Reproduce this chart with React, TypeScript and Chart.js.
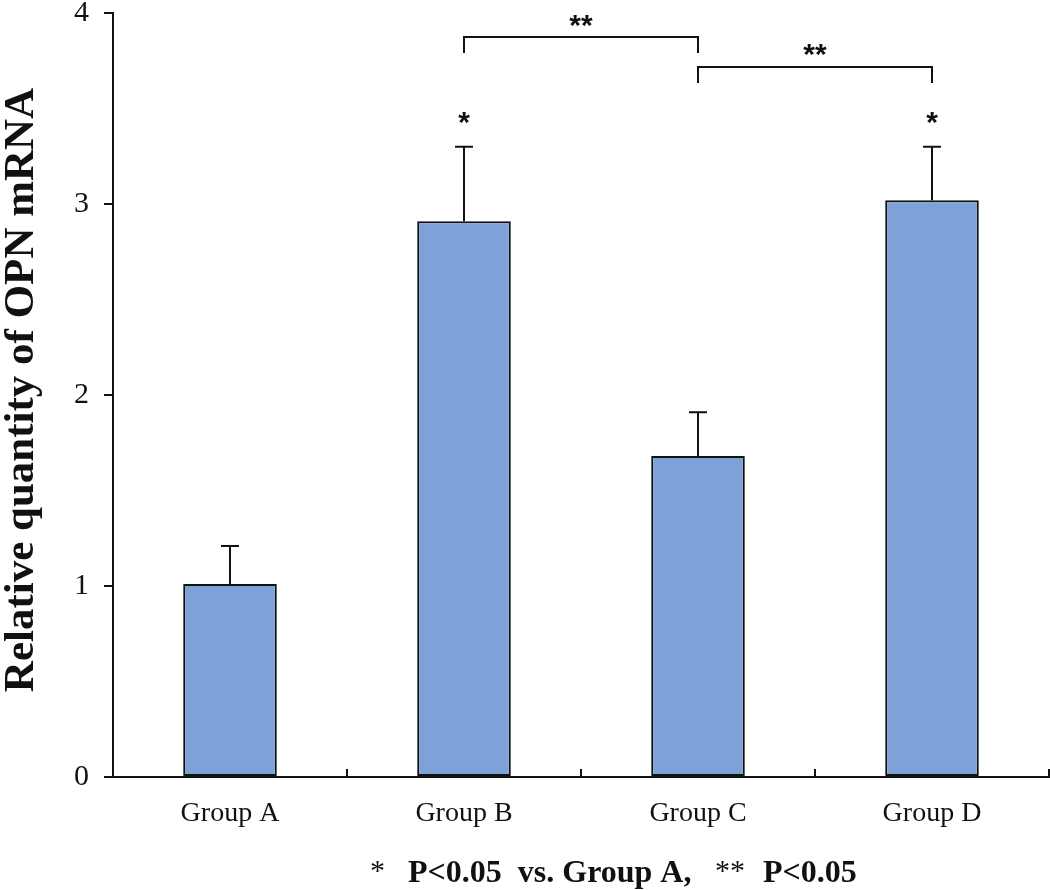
import React, { useEffect, useRef } from "react";
import { Chart, registerables } from "chart.js";

Chart.register(...registerables);

// ---- data ----
const categories = ["Group A", "Group B", "Group C", "Group D"];
const meanValues = [1.01, 2.91, 1.68, 3.02];
const errorTops = [1.21, 3.3, 1.91, 3.3];
const starLabels = ["", "*", "", "*"];
const starLevels = [0, 3.45, 0, 3.45];
const yTickValues = [0, 1, 2, 3, 4];
// brackets: [fromIndex, toIndex, topValue, legValue, labelValue]
const bracketFrom = [1, 2];
const bracketTo = [2, 3];
const bracketTop = [3.875, 3.717];
const bracketLeg = [3.79, 3.633];
const bracketLabelLevel = [3.96, 3.81];
const bracketLabels = ["**", "**"];
const yTitle = "Relative quantity of OPN mRNA";

const INK = "#111111";
const BAR_FILL = "rgb(126,161,216)";

const annotations = {
  id: "annotations",
  afterDatasetsDraw(chart: any) {
    const { ctx } = chart;
    const ys = chart.scales.y;
    const meta = chart.getDatasetMeta(0);
    ctx.save();
    ctx.strokeStyle = INK;
    ctx.fillStyle = INK;
    ctx.lineWidth = 2;
    // error bars
    meta.data.forEach((bar: any, i: number) => {
      const x = bar.x;
      const yTop = ys.getPixelForValue(errorTops[i]);
      ctx.beginPath();
      ctx.moveTo(x, bar.y);
      ctx.lineTo(x, yTop);
      ctx.moveTo(x - 9, yTop);
      ctx.lineTo(x + 9, yTop);
      ctx.stroke();
      if (starLabels[i]) {
        ctx.font = "bold 30px 'Liberation Sans'";
        ctx.textAlign = "center";
        ctx.textBaseline = "middle";
        ctx.fillText(starLabels[i], x, ys.getPixelForValue(starLevels[i]) + 6);
      }
    });
    // brackets
    bracketFrom.forEach((f, k) => {
      const x1 = meta.data[f].x;
      const x2 = meta.data[bracketTo[k]].x;
      const yt = ys.getPixelForValue(bracketTop[k]);
      const yl = ys.getPixelForValue(bracketLeg[k]);
      ctx.beginPath();
      ctx.moveTo(x1, yl);
      ctx.lineTo(x1, yt);
      ctx.lineTo(x2, yt);
      ctx.lineTo(x2, yl);
      ctx.stroke();
      ctx.font = "bold 30px 'Liberation Sans'";
      ctx.textAlign = "center";
      ctx.textBaseline = "middle";
      ctx.fillText(bracketLabels[k], (x1 + x2) / 2, ys.getPixelForValue(bracketLabelLevel[k]) + 6);
    });
    // inward tick marks on x axis at category boundaries
    const xs = chart.scales.x;
    const half = (xs.getPixelForValue(1) - xs.getPixelForValue(0)) / 2;
    const yb = chart.chartArea.bottom;
    for (let i = 1; i <= categories.length; i++) {
      const x = xs.getPixelForValue(i) - half;
      ctx.beginPath();
      ctx.moveTo(x, yb);
      ctx.lineTo(x, yb - 8);
      ctx.stroke();
    }
    // y title
    ctx.save();
    ctx.translate(33, 390);
    ctx.rotate(-Math.PI / 2);
    ctx.font = "bold 43px 'Liberation Serif'";
    ctx.textAlign = "center";
    ctx.textBaseline = "alphabetic";
    ctx.fillText(yTitle, 0, 0);
    ctx.restore();
    // footer
    ctx.textAlign = "left";
    ctx.textBaseline = "alphabetic";
    const base = 882;
    ctx.font = "30px 'Liberation Serif'";
    ctx.fillText("*", 370, base - 2);
    ctx.font = "bold 32px 'Liberation Serif'";
    ctx.fillText("P<0.05  vs. Group A,", 408, base);
    ctx.font = "30px 'Liberation Serif'";
    ctx.fillText("**", 715, base - 2);
    ctx.font = "bold 32px 'Liberation Serif'";
    ctx.fillText("P<0.05", 763, base);
    ctx.restore();
  },
};

export default function App() {
  const ref = useRef<HTMLCanvasElement>(null);
  useEffect(() => {
    if (!ref.current) return;
    const chart = new Chart(ref.current, {
      type: "bar",
      data: {
        labels: categories,
        datasets: [
          {
            data: meanValues,
            backgroundColor: BAR_FILL,
            borderColor: INK,
            borderWidth: 2,
            borderSkipped: false,
            barPercentage: 0.4,
            categoryPercentage: 1,
          },
        ],
      },
      options: {
        responsive: false,
        animation: false,
        layout: { padding: { top: 13, right: 1, left: 0, bottom: 0 } },
        plugins: { legend: { display: false }, tooltip: { enabled: false } },
        scales: {
          x: {
            grid: { display: false, drawTicks: false },
            border: { display: true, color: INK, width: 2 },
            ticks: {
              color: INK,
              font: { family: "'Liberation Serif'", size: 28 },
              padding: 20,
            },
            afterFit: (s: any) => {
              s.height = 113;
              s.paddingLeft = 0;
              s.paddingRight = 0;
            },
          },
          y: {
            min: 0,
            max: 4,
            afterBuildTicks: (s: any) => {
              s.ticks = yTickValues.map((v) => ({ value: v }));
            },
            ticks: {
              color: INK,
              font: { family: "'Liberation Serif'", size: 30 },
              padding: 15,
            },
            grid: { drawOnChartArea: false, drawTicks: true, tickLength: 9, color: INK, lineWidth: 2 },
            border: { display: true, color: INK, width: 2 },
            afterFit: (s: any) => {
              s.width = 113;
              s.paddingTop = 0;
              s.paddingBottom = 0;
            },
          },
        },
      },
      plugins: [annotations],
    });
    return () => chart.destroy();
  }, []);
  return (
    <div style={{ position: "absolute", left: 0, top: 0, width: 1050, height: 890, background: "#fff" }}>
      <canvas ref={ref} width={1050} height={890} />
    </div>
  );
}
